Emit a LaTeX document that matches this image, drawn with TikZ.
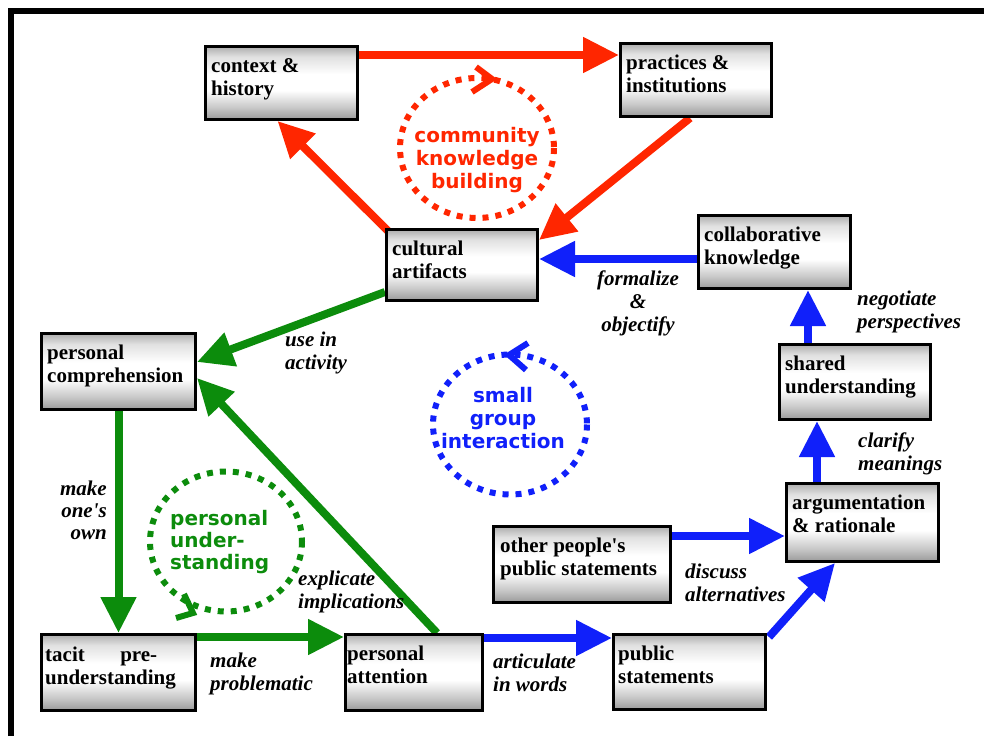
\documentclass[tikz,border=0pt]{standalone}
\usepackage{fontspec}
\setmainfont{Liberation Serif}
\newfontfamily\circfont{DejaVu Sans}
\usetikzlibrary{arrows.meta,calc,backgrounds}
\definecolor{myred}{RGB}{255,38,0}
\definecolor{myblue}{RGB}{16,32,250}
\definecolor{mygreen}{RGB}{12,140,12}
\pgfdeclareverticalshading{boxshade}{100bp}{color(0bp)=(black!40); color(25bp)=(black!40); color(33bp)=(black!22); color(45bp)=(white); color(56bp)=(white); color(68bp)=(black!12); color(75bp)=(black!32); color(100bp)=(black!32)}
\tikzset{
  box/.style={draw=black, line width=3pt, shade, shading=boxshade, inner sep=0pt},
  btext/.style={font=\fontsize{21}{23}\selectfont\bfseries, align=left, inner sep=0pt, anchor=north west},
  lab/.style={font=\fontsize{21}{23}\selectfont\bfseries\itshape, align=left, inner sep=0pt, anchor=north west},
  ctext/.style={font=\circfont\fontsize{20}{23}\selectfont\bfseries, align=center, inner sep=0pt, anchor=north},
  arr/.style={line width=8pt, -{Triangle[length=36pt,width=34pt]}},
  dotc/.style={line width=6pt, dash pattern=on 6pt off 7pt},
  chev/.style={line width=6pt, line join=miter},
}
\begin{document}
\begin{tikzpicture}[x=1pt,y=-1pt]
\useasboundingbox (0,0) rectangle (984,736);
% frame
\draw[line width=6pt, line join=miter] (11,736) -- (11,11) -- (984,11);
% boxes
\node[box, minimum width=152pt, minimum height=73pt] (ctx) at (281.5,83) {};
\node[box, minimum width=151pt, minimum height=73pt] (prac) at (696,80) {};
\node[box, minimum width=151pt, minimum height=71pt] (cult) at (462,265) {};
\node[box, minimum width=152pt, minimum height=73pt] (coll) at (774.5,252) {};
\node[box, minimum width=151pt, minimum height=75pt] (shared) at (855,382) {};
\node[box, minimum width=154pt, minimum height=76pt] (pcomp) at (118.5,371.5) {};
\node[box, minimum width=154pt, minimum height=76pt] (tacit) at (118.5,672.5) {};
\node[box, minimum width=137pt, minimum height=76pt] (patt) at (414,672.5) {};
\node[box, minimum width=177pt, minimum height=76pt] (other) at (582,564.5) {};
\node[box, minimum width=152pt, minimum height=78pt] (arg) at (862.5,522.5) {};
\node[box, minimum width=152pt, minimum height=75pt] (pub) at (689.5,672) {};
% box texts
\node[btext] (tctx) at (211,55.9) {\strut context \&\\history};
\node[btext] (tprac) at (626,52.9) {\strut practices \&\\institutions};
\node[btext] (tcult) at (392,238.9) {\strut cultural\\artifacts};
\node[btext] (tcoll) at (704,224.9) {\strut collaborative\\knowledge};
\node[btext] (tshared) at (785,353.9) {\strut shared\\understanding};
\node[btext] (tpcomp) at (47,342.9) {\strut personal\\comprehension};
\node[btext] (ttacit) at (45,644.9) {\strut\makebox[112pt][l]{tacit\hfill pre-}\\understanding};
\node[btext] (tpatt) at (347,643.9) {\strut personal\\attention};
\node[btext] (tother) at (500,535.9) {\strut other people\textquotesingle s\\public statements};
\node[btext] (targ) at (792,492.9) {\strut argumentation\\\& rationale};
\node[btext] (tpub) at (618,643.9) {\strut public\\statements};
% arrows
\begin{scope}[on background layer]
\coordinate (r1s) at ([yshift=-10pt]ctx.north east);
\draw[arr, myred] (r1s) -- (prac.west |- r1s);
\draw[arr, myred] ([xshift=-6pt]prac.south) -- ([yshift=-12pt]cult.north east);
\draw[arr, myred] ([xshift=3pt,yshift=-3pt]cult.north west) -- ([xshift=-4pt]ctx.south);
\coordinate (b1s) at ([yshift=-7pt]coll.west);
\draw[arr, myblue] (b1s) -- (cult.east |- b1s);
\coordinate (b2s) at ([xshift=30pt]shared.north west);
\draw[arr, myblue] (b2s) -- (coll.south -| b2s);
\coordinate (b3s) at ([xshift=32pt]arg.north west);
\draw[arr, myblue] (b3s) -- (shared.south -| b3s);
\coordinate (b4s) at ([yshift=-11pt]other.north east);
\draw[arr, myblue] (b4s) -- (arg.west |- b4s);
\draw[arr, myblue] ([xshift=2pt,yshift=-4pt]pub.north east) -- ([xshift=50pt]arg.south west);
\coordinate (b6s) at ([yshift=-5pt]patt.north east);
\draw[arr, myblue] (b6s) -- (pub.west |- b6s);
\draw[arr, mygreen] ([yshift=10pt]cult.south west) -- ([yshift=-30pt]pcomp.north east);
\draw[arr, mygreen] (pcomp.south) -- (tacit.north);
\coordinate (g3s) at ([yshift=-4pt]tacit.north east);
\draw[arr, mygreen] (g3s) -- (patt.west |- g3s);
\draw[arr, mygreen] ([xshift=93pt]patt.north west) -- ([yshift=-46pt]pcomp.north east);
\end{scope}
% dotted cycles
\draw[dotc, myred] (477,148) ellipse [x radius=77, y radius=70];
\draw[chev, myred] (476,67) -- (492,79) -- (472,92);
\draw[dotc, myblue] (510,424.5) ellipse [x radius=77, y radius=70];
\draw[chev, myblue] (528,343) -- (509,355) -- (526,370);
\draw[dotc, mygreen] (226,541.5) ellipse [x radius=76, y radius=70];
\draw[chev, mygreen] (184,594) -- (193,613) -- (176,618);
% cycle texts
\node[ctext, text=myred] (cred) at (477,125.9) {\strut community\\knowledge\\building};
\node[ctext, text=myblue] (cblue) at (503,385.9) {\strut small\\group\\interaction};
\node[ctext, text=mygreen, align=left, anchor=north west, font=\circfont\fontsize{20}{22}\selectfont\bfseries] (cgreen) at (170,509.6) {\strut personal\\under-\\standing};
% labels
\node[lab] (l1) at (285,329.9) {\strut use in\\activity};
\node[lab, align=center, anchor=north] (l2) at (638,268.9) {\strut formalize\\\&\\objectify};
\node[lab] (l3) at (857,288.9) {\strut negotiate\\perspectives};
\node[lab] (l4) at (858,430.9) {\strut clarify\\meanings};
\node[lab] (l5) at (685,561.9) {\strut discuss\\alternatives};
\node[lab] (l6) at (493,651.9) {\strut articulate\\in words};
\node[lab] (l7) at (210,650.9) {\strut make\\problematic};
\node[lab] (l8) at (298,568.9) {\strut explicate\\implications};
\node[lab, align=right, anchor=north east, font=\fontsize{21}{22}\selectfont\bfseries\itshape] (l9) at (107,479.6) {\strut make\\one\textquotesingle s\\own};
\end{tikzpicture}
\end{document}
